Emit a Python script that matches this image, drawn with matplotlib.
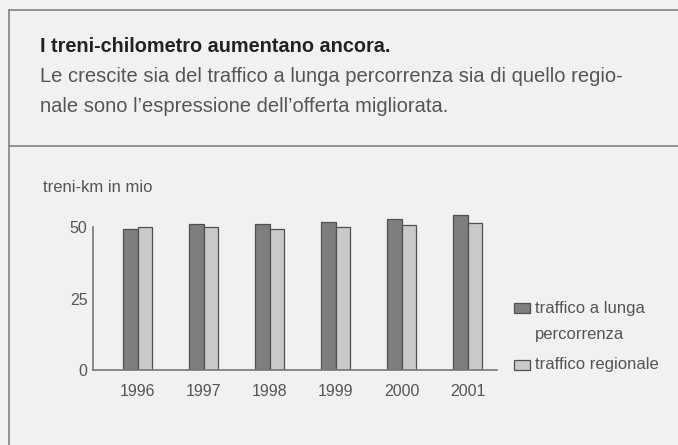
import matplotlib.pyplot as plt
import numpy as np
from matplotlib.patches import Rectangle
from matplotlib.lines import Line2D

plt.rcParams['font.family'] = ['Liberation Sans', 'DejaVu Sans']

anni = ['1996', '1997', '1998', '1999', '2000', '2001']
lunga_percorrenza = [49.4, 51.0, 51.0, 51.7, 52.9, 54.4]
regionale = [50.0, 50.0, 49.4, 50.1, 50.8, 51.6]
yticks = [0, 25, 50]

bg = '#f1f1ef'
scuro = '#7e7e7c'
chiaro = '#c9c9c7'
bordo = '#505050'
testo = '#555555'

fig = plt.figure(figsize=(6.78, 4.45), dpi=100, facecolor=bg)

# cornice
fig.add_artist(Line2D([9/678, 9/678], [0, 1 - 10/445], color='#8a8a8a', lw=1.3))
fig.add_artist(Line2D([9/678, 1], [1 - 10/445, 1 - 10/445], color='#8a8a8a', lw=1.3))
fig.add_artist(Line2D([9/678, 1], [1 - 146/445, 1 - 146/445], color='#8a8a8a', lw=1.3))

# titolo e testo
fig.text(40/678, 1 - 47/445, 'I treni-chilometro aumentano ancora.', fontsize=14.3,
         fontweight='bold', color='#222222', va='center')
fig.text(40/678, 1 - 77/445, 'Le crescite sia del traffico a lunga percorrenza sia di quello regio-',
         fontsize=14.5, color=testo, va='center')
fig.text(40/678, 1 - 106/445, "nale sono l\u2019espressione dell\u2019offerta migliorata.",
         fontsize=14.5, color=testo, va='center')

ax = fig.add_axes([93/678, 75/445, 404/678, 160/445])
ax.set_facecolor(bg)
x = np.arange(len(anni))
w = 0.22
ax.bar(x - w/2, lunga_percorrenza, w, color=scuro, edgecolor=bordo, linewidth=0.9)
ax.bar(x + w/2, regionale, w, color=chiaro, edgecolor=bordo, linewidth=0.9)

ax.set_xlim(-0.68, 5.44)
ax.set_ylim(0, 56)
ax.set_xticks(x)
ax.set_xticklabels(anni)
ax.set_yticks(yticks)
ax.tick_params(length=0, labelsize=11.5, colors=testo, pad=4)
ax.tick_params(axis='x', pad=10)
for s in ['top', 'right']:
    ax.spines[s].set_visible(False)
ax.spines['left'].set_bounds(0, 50)
ax.spines['left'].set_color('#777777')
ax.spines['bottom'].set_color('#777777')
ax.spines['left'].set_linewidth(1.2)
ax.spines['bottom'].set_linewidth(1.2)

fig.text(43/678, 1 - 188/445, 'treni-km in mio', fontsize=12, color=testo, va='center')

# legenda
fig.add_artist(Rectangle((514/678, 1 - 313/445), 16/678, 10/445, facecolor=scuro,
                         edgecolor=bordo, lw=0.9))
fig.add_artist(Rectangle((514/678, 1 - 370/445), 16/678, 10/445, facecolor=chiaro,
                         edgecolor=bordo, lw=0.9))
fig.text(535/678, 1 - 308/445, 'traffico a lunga', fontsize=12, color=testo, va='center')
fig.text(535/678, 1 - 335/445, 'percorrenza', fontsize=12, color=testo, va='center')
fig.text(535/678, 1 - 364/445, 'traffico regionale', fontsize=12, color=testo, va='center')

fig.savefig('out.png', dpi=100, facecolor=bg)
